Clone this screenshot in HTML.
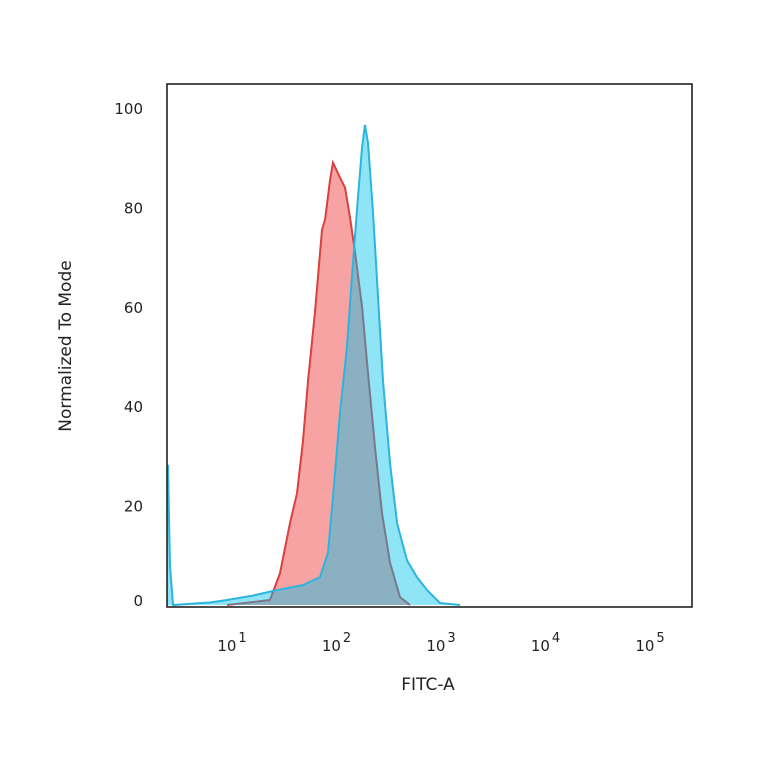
<!DOCTYPE html>
<html><head><meta charset="utf-8">
<style>
html,body{margin:0;padding:0;background:#fff;}
svg{display:block;font-family:"DejaVu Sans","Liberation Sans",sans-serif;}
</style></head>
<body>
<svg id="chart" width="764" height="764" viewBox="0 0 764 764" xmlns="http://www.w3.org/2000/svg">
<rect width="764" height="764" fill="#fff"/>
<g id="marks"></g>
<rect x="167" y="84" width="525" height="523" fill="none" stroke="#222" stroke-width="1.6"/>
<g id="axes"></g>
<text transform="translate(71,346) rotate(-90)" text-anchor="middle" font-size="17" fill="#222">Normalized To Mode</text>
<text x="428" y="690" text-anchor="middle" font-size="17" fill="#222">FITC-A</text>
</svg>
<script>
// data (x in log10 units, y in % of mode)
const redLog=[0.914,1.325,1.421,1.517,1.584,1.641,1.689,1.756,1.823,1.852,1.900,1.928,1.995,2.043,2.091,2.139,2.206,2.263,2.330,2.397,2.474,2.569,2.665];
const redVal=[0,1,6.4,16.5,22.5,33,45,59,75.5,77.5,85.5,89,86,84,78,71,60,46.7,31.8,18.5,8.5,1.6,0];
const blueLog=[0.34,0.349,0.368,0.397,0.751,0.914,1.163,1.392,1.641,1.804,1.880,1.928,1.995,2.062,2.120,2.167,2.206,2.234,2.263,2.311,2.359,2.407,2.474,2.541,2.636,2.732,2.828,2.952,3.144];
const blueVal=[28,28,8,0,0.5,1,1.9,3,4,5.6,10.5,21.7,38.6,52,69,82,92,96.6,93,79,62,45,28.5,16.5,9,5.6,3,0.4,0];
const yTicks=[0,20,40,60,80,100];
const xTickExp=[1,2,3,4,5];

const NS="http://www.w3.org/2000/svg";
const xS=l=>236+(l-1)*104.5;
const yS=v=>605-v*4.97;
const marks=document.getElementById('marks');
const axes=document.getElementById('axes');

function area(logs,vals,fill,op,name){
  let d=`M${xS(logs[0])},${yS(0)}`;
  logs.forEach((l,i)=>{d+=` L${xS(l)},${yS(vals[i])}`;});
  d+=` L${xS(logs[logs.length-1])},${yS(0)} Z`;
  const p=document.createElementNS(NS,'path');
  p.setAttribute('d',d);p.setAttribute('fill',fill);p.setAttribute('fill-opacity',op);
  
  
  marks.appendChild(p);
}
function line(logs,vals,stroke,name){
  let d='';
  logs.forEach((l,i)=>{d+=(i?' L':'M')+xS(l)+','+yS(vals[i]);});
  const p=document.createElementNS(NS,'path');
  p.setAttribute('d',d);p.setAttribute('fill','none');p.setAttribute('stroke',stroke);p.setAttribute('stroke-width','2');
  
  
  marks.appendChild(p);
}
area(redLog,redVal,'#f8a3a3',1,'red-histogram-fill');
line(redLog,redVal,'#d9403f','red-histogram-line');
area(blueLog,blueVal,'#00c1ea',0.44,'blue-histogram-fill');
line(blueLog,blueVal,'#2bb5de','blue-histogram-line');

yTicks.forEach(v=>{
  const t=document.createElementNS(NS,'text');
  t.setAttribute('x',143);t.setAttribute('y',yS(v)+(v===0?1:6));
  t.setAttribute('text-anchor','end');t.setAttribute('font-size','15');t.setAttribute('fill','#222');
  t.textContent=v;
  
  
  axes.appendChild(t);
});
xTickExp.forEach(e=>{
  const t=document.createElementNS(NS,'text');
  t.setAttribute('x',xS(e)-4);t.setAttribute('y',651);
  t.setAttribute('text-anchor','middle');t.setAttribute('font-size','15');t.setAttribute('fill','#222');
  t.textContent='10';
  const s=document.createElementNS(NS,'tspan');
  s.setAttribute('dy','-9');s.setAttribute('font-size','13');s.setAttribute('dx','2');
  s.textContent=e;
  t.appendChild(s);
  
  
  axes.appendChild(t);
});
</script>
</body></html>
